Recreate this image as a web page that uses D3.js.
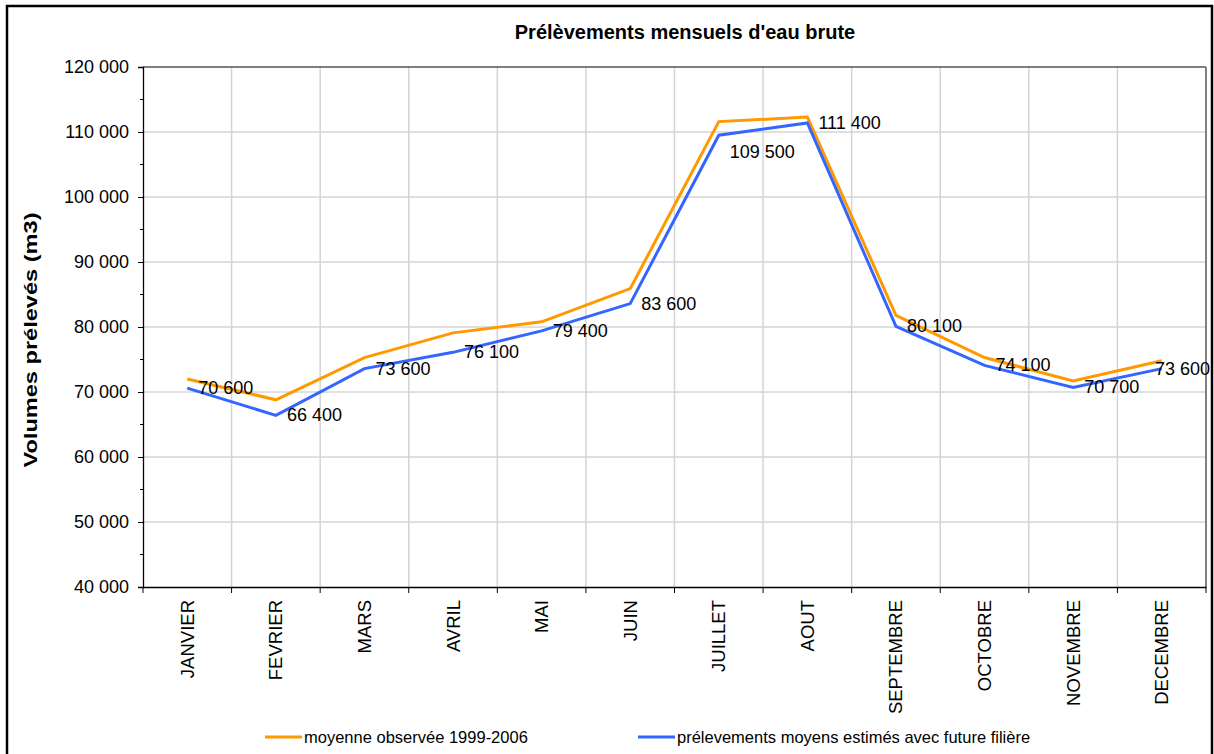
<!DOCTYPE html>
<html lang="fr">
  <head>
    <meta charset="UTF-8" />
    <title>Prélèvements mensuels d'eau brute</title>
    <script src="https://d3js.org/d3.v7.min.js"></script>
    <style>
      body {
        margin: 0;
        background: #fff;
        font-family: "Liberation Sans", Arial, sans-serif;
      }
      svg {
        display: block;
      }
    </style>
  </head>
  <body>
    <svg id="chart" width="1214" height="754"></svg>
    <script>
      const months = [
        "JANVIER", "FEVRIER", "MARS", "AVRIL", "MAI", "JUIN",
        "JUILLET", "AOUT", "SEPTEMBRE", "OCTOBRE", "NOVEMBRE", "DECEMBRE",
      ];
      // moyenne observée 1999-2006
      const observed = [72000, 68800, 75300, 79100, 80800, 85900, 111600, 112300, 81800, 75300, 71700, 74800];
      // prélevements moyens estimés avec future filière
      const estimated = [70600, 66400, 73600, 76100, 79400, 83600, 109500, 111400, 80100, 74100, 70700, 73600];
      const yTicks = [40000, 50000, 60000, 70000, 80000, 90000, 100000, 110000, 120000];

      const series = [
        { name: "moyenne observée 1999-2006", values: observed, color: "#ff9900" },
        { name: "prélevements moyens estimés avec future filière", values: estimated, color: "#3366ff" },
      ];

      const plot = { left: 143, right: 1206, top: 67, bottom: 587 };

      const fr = d3.formatLocale({ decimal: ",", thousands: " ", grouping: [3], currency: ["", ""] });
      const fmt = fr.format(",d");

      const svg = d3.select("#chart");

      // cadre extérieur
      svg.append("rect")
        .attr("x", 7).attr("y", 6)
        .attr("width", 1205).attr("height", 760)
        .attr("fill", "none").attr("stroke", "#000").attr("stroke-width", 2.5);

      const x = d3.scaleBand().domain(months).range([plot.left, plot.right]).padding(0);
      const y = d3.scaleLinear().domain([40000, 120000]).range([plot.bottom, plot.top]);
      const cx = (i) => x(months[i]) + x.bandwidth() / 2;

      // grille horizontale
      svg.append("g")
        .selectAll("line")
        .data(yTicks.slice(1, -1))
        .join("line")
        .attr("x1", plot.left).attr("x2", plot.right)
        .attr("y1", (d) => y(d)).attr("y2", (d) => y(d))
        .attr("stroke", "#c0c0c0").attr("stroke-width", 1);

      // grille verticale
      svg.append("g")
        .selectAll("line")
        .data(months.slice(1))
        .join("line")
        .attr("x1", (d) => x(d)).attr("x2", (d) => x(d))
        .attr("y1", plot.top).attr("y2", plot.bottom)
        .attr("stroke", "#d4d4d4").attr("stroke-width", 1.5);

      // bordure de la zone de tracé
      svg.append("line")
        .attr("x1", plot.left).attr("x2", plot.right)
        .attr("y1", plot.top).attr("y2", plot.top)
        .attr("stroke", "#000").attr("stroke-width", 1.2);
      svg.append("line")
        .attr("x1", plot.right).attr("x2", plot.right)
        .attr("y1", plot.top).attr("y2", plot.bottom)
        .attr("stroke", "#808080").attr("stroke-width", 2);

      // axe Y
      const yAxis = svg.append("g")
        .attr("transform", `translate(${plot.left},0)`)
        .call(d3.axisLeft(y).tickValues(yTicks).tickFormat(fmt).tickSize(5).tickPadding(9));
      yAxis.select(".domain").attr("stroke", "#000").attr("stroke-width", 1.3);
      yAxis.selectAll("text")
        .attr("font-family", "Liberation Sans, Arial, sans-serif")
        .attr("font-size", 18).attr("fill", "#000");
      // petites graduations
      svg.append("g")
        .selectAll("line")
        .data(yTicks.slice(0, -1).map((d) => d + 5000))
        .join("line")
        .attr("x1", plot.left - 3).attr("x2", plot.left)
        .attr("y1", (d) => y(d)).attr("y2", (d) => y(d))
        .attr("stroke", "#000");

      // axe X
      const xAxis = svg.append("g")
        .attr("transform", `translate(0,${plot.bottom})`)
        .call(d3.axisBottom(x).tickSize(0).tickFormat(""));
      xAxis.select(".domain").attr("stroke", "#000").attr("stroke-width", 1.3);
      xAxis.selectAll(".tick").remove();
      svg.append("g")
        .selectAll("line")
        .data(months)
        .join("line")
        .attr("x1", (d) => x(d)).attr("x2", (d) => x(d))
        .attr("y1", plot.bottom).attr("y2", plot.bottom + 6)
        .attr("stroke", "#000");
      svg.append("line")
        .attr("x1", plot.right).attr("x2", plot.right)
        .attr("y1", plot.bottom).attr("y2", plot.bottom + 6)
        .attr("stroke", "#000");

      svg.append("g")
        .selectAll("text")
        .data(months)
        .join("text")
        .attr("transform", (d) => `translate(${x(d) + x.bandwidth() / 2},${plot.bottom + 13}) rotate(-90)`)
        .attr("text-anchor", "end")
        .attr("dominant-baseline", "central")
        .attr("font-size", 18.5)
        .text((d) => d);

      // titre
      svg.append("text")
        .attr("x", 685).attr("y", 39)
        .attr("text-anchor", "middle")
        .attr("font-weight", "bold")
        .attr("font-size", 20)
        .text("Prélèvements mensuels d'eau brute");

      svg.append("text")
        .attr("transform", "translate(30,340) rotate(-90)")
        .attr("text-anchor", "middle")
        .attr("dominant-baseline", "central")
        .attr("font-weight", "bold")
        .attr("font-size", 19)
        .attr("textLength", 255)
        .attr("lengthAdjust", "spacingAndGlyphs")
        .text("Volumes prélevés (m3)");

      // courbes
      const line = d3.line()
        .x((d, i) => cx(i))
        .y((d) => y(d));

      svg.append("g")
        .selectAll("path")
        .data(series)
        .join("path")
        .attr("d", (d) => line(d.values))
        .attr("fill", "none")
        .attr("stroke", (d) => d.color)
        .attr("stroke-width", 3)
        .attr("stroke-linejoin", "miter");

      // étiquettes de données (série estimée), à droite du point
      svg.append("g")
        .selectAll("text")
        .data(estimated)
        .join("text")
        .attr("x", (d, i) => cx(i) + 11)
        .attr("y", (d) => y(d))
        .attr("dy", (d, i) => (months[i] === "JUILLET" ? 17 : 0))
        .attr("dominant-baseline", "central")
        .attr("font-size", 18)
        .text((d) => fmt(d))
        .each(function () {
          // garder l'étiquette dans le cadre
          const w = this.getComputedTextLength();
          const x0 = +this.getAttribute("x");
          if (x0 + w > 1210) this.setAttribute("x", 1210 - w);
        });

      // légende
      const legendX = [265, 638];
      const legend = svg.append("g")
        .selectAll("g")
        .data(series)
        .join("g")
        .attr("transform", (d, i) => `translate(${legendX[i]},737)`);
      legend.append("line")
        .attr("x1", 0).attr("x2", 37)
        .attr("stroke", (d) => d.color).attr("stroke-width", 3);
      legend.append("text")
        .attr("x", 39)
        .attr("dominant-baseline", "central")
        .attr("font-size", 16.5)
        .text((d) => d.name);
    </script>
  </body>
</html>
